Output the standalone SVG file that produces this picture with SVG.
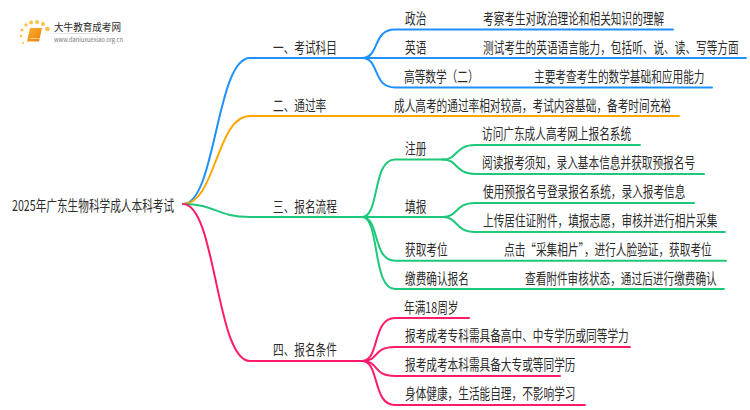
<svg xmlns="http://www.w3.org/2000/svg" width="750" height="410" viewBox="0 0 750 410">
<defs>
<linearGradient id="bk" x1="0" y1="0" x2="1" y2="1"><stop offset="0" stop-color="#fbb12a"/><stop offset="1" stop-color="#ee7d0e"/></linearGradient>
<linearGradient id="ln" x1="0" y1="0" x2="1" y2="0"><stop offset="0" stop-color="#d8d8d8" stop-opacity="0"/><stop offset=".3" stop-color="#d8d8d8"/><stop offset="1" stop-color="#d8d8d8" stop-opacity="0"/></linearGradient>
</defs>
<style>
text{font-family:"Noto Sans CJK SC","Liberation Sans",sans-serif;font-size:14.500px;fill:#2b2b2b}
.c{fill:none;stroke-width:2;stroke-linecap:round}
.b{stroke:#1e90ff}.o{stroke:#ffa500}.g{stroke:#1ec87a}.p{stroke:#ff1a6c}
.d{fill:#fbc04a}
</style>
<rect width="750" height="410" fill="#fff"/>
<g id="logo">
<circle class="d" cx="23" cy="43" r="1"/><circle class="d" cx="21" cy="36" r="1.300"/><circle class="d" cx="22" cy="30" r="1.500"/><circle class="d" cx="26" cy="25" r="1.700"/><circle class="d" cx="31" cy="22.500" r="2"/><circle class="d" cx="37" cy="22" r="2"/><circle class="d" cx="43" cy="24" r="2"/><circle class="d" cx="47.500" cy="29" r="2.300"/>
<path d="M30 28H42L39 41.500H27Z" fill="url(#bk)"/>
<path d="M30 38.500H39.500" stroke="#ffe2a8" stroke-width=".8" fill="none"/>
<rect x="45" y="33" width="88" height="1" fill="url(#ln)"/>
<text x="54" y="31" textLength="67" lengthAdjust="spacingAndGlyphs" style="font-size:10px">大牛教育成考网</text>
<text x="54" y="41.500" textLength="69" lengthAdjust="spacingAndGlyphs" style="font-size:6px;fill:#777">www.daniuxuexiao.org.cn</text>
</g>
<g id="connectors">
<path class="c b" d="M183 204C216 204 216 58 250 58H362"/>
<path class="c o" d="M183 204C216 204 216 116 250 116H679"/>
<path class="c g" d="M183 204C216 204 216 217 250 217H362"/>
<path class="c p" d="M183 204C216 204 216 361 250 361H362"/>
<path class="c b" d="M362 58C380 58 372 29.500 395 29.500H673"/>
<path class="c b" d="M362 58H746"/>
<path class="c b" d="M362 58C380 58 372 87.500 395 87.500H712"/>
<path class="c g" d="M362 217C380 217 372 159.500 395 159.500H443"/>
<path class="c g" d="M362 217H443"/>
<path class="c g" d="M362 217C380 217 372 260.700 395 260.700H726"/>
<path class="c g" d="M362 217C380 217 372 289 395 289H724"/>
<path class="c g" d="M443 159.500C458 159.500 455 145 475 145H640"/>
<path class="c g" d="M443 159.500C458 159.500 455 174 475 174H704"/>
<path class="c g" d="M443 217C458 217 455 203 475 203H694"/>
<path class="c g" d="M443 217C458 217 455 232 475 232H725"/>
<path class="c p" d="M362 361C380 361 372 318 395 318H469"/>
<path class="c p" d="M362 361C380 361 372 347 395 347H630"/>
<path class="c p" d="M362 361C380 361 372 376 395 376H560"/>
<path class="c p" d="M362 361C380 361 372 405 395 405H585"/>
</g>
<g id="root"><text transform="translate(12 211) scale(.735 1)">2025年广东生物科学成人本科考试</text></g>
<g id="n1"><text transform="translate(273 53) scale(.735 1)">一、考试科目</text></g>
<g id="n2"><text transform="translate(273 111) scale(.735 1)">二、通过率</text></g>
<g id="n3"><text transform="translate(273 211.500) scale(.735 1)">三、报名流程</text></g>
<g id="n4"><text transform="translate(273 355) scale(.735 1)">四、报名条件</text></g>
<g id="n1-1"><text transform="translate(405 23.500) scale(.735 1)">政治</text><text transform="translate(483 24) scale(.735 1)">考察考生对政治理论和相关知识的理解</text></g>
<g id="n1-2"><text transform="translate(405 53) scale(.735 1)">英语</text><text transform="translate(483 53) scale(.735 1)">测试考生的英语语言能力，包括听、说、读、写等方面</text></g>
<g id="n1-3"><text transform="translate(404 81.500) scale(.735 1)">高等数学（二）</text><text transform="translate(534 82) scale(.735 1)">主要考查考生的数学基础和应用能力</text></g>
<g id="n2-1"><text transform="translate(394 111) scale(.735 1)">成人高考的通过率相对较高，考试内容基础，备考时间充裕</text></g>
<g id="n3-1"><text transform="translate(405 154) scale(.735 1)">注册</text></g>
<g id="n3-1-1"><text transform="translate(482 139) scale(.735 1)">访问广东成人高考网上报名系统</text></g>
<g id="n3-1-2"><text transform="translate(482 168) scale(.735 1)">阅读报考须知，录入基本信息并获取预报名号</text></g>
<g id="n3-2"><text transform="translate(405 211.500) scale(.735 1)">填报</text></g>
<g id="n3-2-1"><text transform="translate(483 197) scale(.735 1)">使用预报名号登录报名系统，录入报考信息</text></g>
<g id="n3-2-2"><text transform="translate(483 226) scale(.735 1)">上传居住证附件，填报志愿，审核并进行相片采集</text></g>
<g id="n3-3"><text transform="translate(405 255) scale(.735 1)">获取考位</text><text transform="translate(504 255) scale(.735 1)">点击“采集相片”，进行人脸验证，获取考位</text></g>
<g id="n3-4"><text transform="translate(405 283.500) scale(.735 1)">缴费确认报名</text><text transform="translate(525 283.500) scale(.735 1)">查看附件审核状态，通过后进行缴费确认</text></g>
<g id="n4-1"><text transform="translate(404 312.500) scale(.735 1)">年满18周岁</text></g>
<g id="n4-2"><text transform="translate(405 341) scale(.735 1)">报考成考专科需具备高中、中专学历或同等学力</text></g>
<g id="n4-3"><text transform="translate(405 370) scale(.735 1)">报考成考本科需具备大专或等同学历</text></g>
<g id="n4-4"><text transform="translate(405 399) scale(.735 1)">身体健康，生活能自理，不影响学习</text></g>
</svg>
